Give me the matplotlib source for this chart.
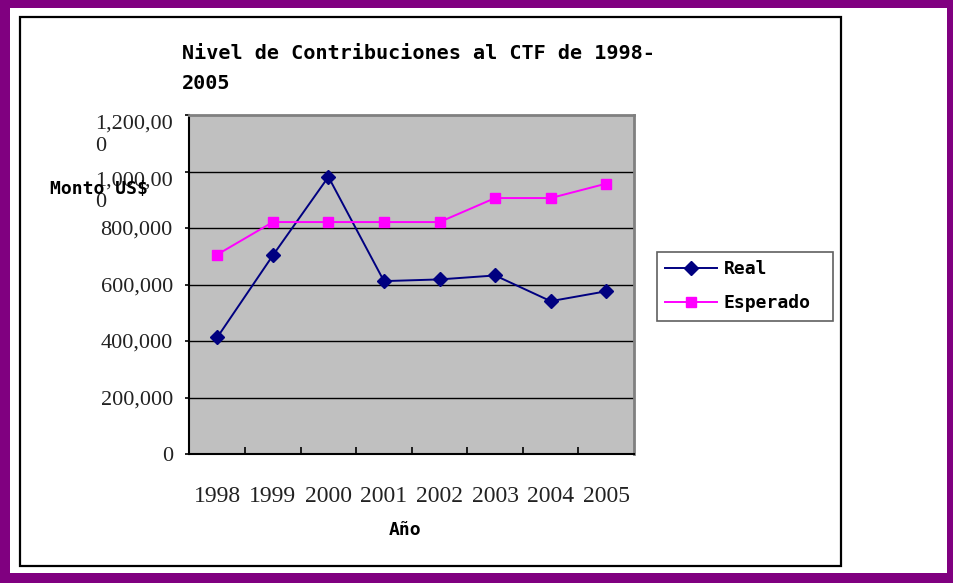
import matplotlib
matplotlib.use("Agg")
from matplotlib import pyplot as plt
from matplotlib.patches import Rectangle
import numpy as np

years = ["1998", "1999", "2000", "2001", "2002", "2003", "2004", "2005"]
real = [413000, 703000, 981000, 612000, 618000, 632000, 541000, 576000]
esperado = [706000, 821000, 821000, 821000, 821000, 906000, 906000, 957000]
ytick_vals = [0, 200000, 400000, 600000, 800000, 1000000, 1200000]
ytick_labels = ["0", "200,000", "400,000", "600,000", "800,000", "1,000,00\n0", "1,200,00\n0"]

W, H = 954, 583
mono = "DejaVu Sans Mono"
serif = "Liberation Serif"

fig = plt.figure(figsize=(W / 100, H / 100), dpi=100)
fig.patch.set_facecolor("#800080")

# white page inside the purple frame, and the black chart box
fig.patches.append(Rectangle((10 / W, 1 - 573 / H), 937 / W, 565 / H,
                             transform=fig.transFigure, facecolor="white", edgecolor="none", zorder=0))
fig.patches.append(Rectangle((20 / W, 1 - 566 / H), 821 / W, 549 / H,
                             transform=fig.transFigure, facecolor="white", edgecolor="black",
                             linewidth=1.6, zorder=0.5))

ax = fig.add_axes([189.5 / W, 1 - 454 / H, 444.5 / W, 339 / H])
ax.set_zorder(2)
ax.set_facecolor("#C0C0C0")
x = np.arange(len(years))

ax.set_xlim(-0.5, len(years) - 0.5)
ax.set_ylim(0, 1200000)
for v in ytick_vals[1:-1]:
    ax.axhline(v, color="black", linewidth=1.0, zorder=1)

line_real, = ax.plot(x, real, color="#000080", linewidth=1.4, marker="D",
                     markersize=7.5, markerfacecolor="#000080", markeredgecolor="#000080", zorder=3)
line_esp, = ax.plot(x, esperado, color="#FF00FF", linewidth=1.4, marker="s",
                    markersize=7.5, markerfacecolor="#FF00FF", markeredgecolor="#FF00FF", zorder=3)

for side in ["top", "right"]:
    ax.spines[side].set_color("#808080")
    ax.spines[side].set_linewidth(2)
for side in ["left", "bottom"]:
    ax.spines[side].set_color("black")
    ax.spines[side].set_linewidth(1.5)

ax.set_yticks(ytick_vals)
ax.set_yticklabels(ytick_labels, fontfamily=serif, fontsize=16, color="#222222")
ax.tick_params(axis="y", direction="out", length=3, width=1.2, pad=9)
for lab in ax.get_yticklabels():
    if "\n" in lab.get_text():
        lab.set_verticalalignment("top")
        lab.set_multialignment("left")

ax.set_xticks(x)
ax.set_xticklabels(years, fontfamily=serif, fontsize=17, color="#222222")
ax.tick_params(axis="x", which="major", length=0, pad=23)
ax.set_xticks(x[:-1] + 0.5, minor=True)
ax.tick_params(axis="x", which="minor", direction="in", length=5, width=1.2)

fig.text(182 / W, 1 - 44 / H, "Nivel de Contribuciones al CTF de 1998-\n2005",
         fontfamily=mono, fontweight="bold", fontsize=14.5, ha="left", va="top", linespacing=1.75)
fig.text(50 / W, 1 - 189 / H, "Monto US$", fontfamily=mono, fontweight="bold",
         fontsize=13, ha="left", va="center", zorder=5)
fig.text(405 / W, 1 - 530 / H, "Año", fontfamily=mono, fontweight="bold",
         fontsize=13, ha="center", va="center")

leg = fig.legend([line_real, line_esp], ["Real", "Esperado"], loc="upper left",
                 bbox_to_anchor=(657 / W, 1 - 316 / H, 176 / W, 64 / H), mode="expand",
                 borderaxespad=0,
                 prop={"family": mono, "weight": "bold", "size": 13},
                 frameon=True, fancybox=False, edgecolor="#606060", framealpha=1,
                 handlelength=2.9, handletextpad=0.35, labelspacing=0.9,
                 borderpad=0.45, markerscale=0.9)
leg.get_frame().set_linewidth(1.2)
leg.set_zorder(6)

fig.savefig("out.png", dpi=100, facecolor=fig.get_facecolor())
